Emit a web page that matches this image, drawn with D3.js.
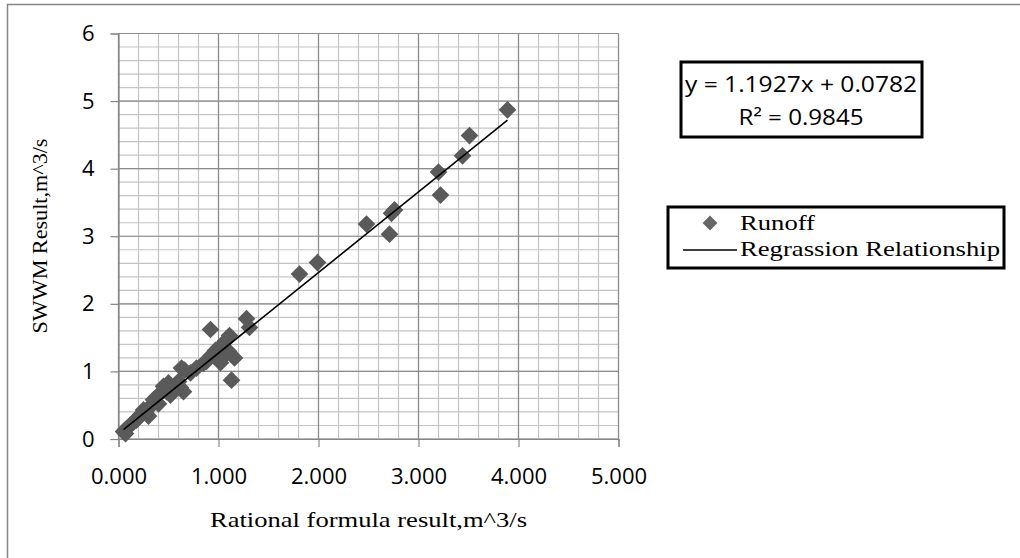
<!DOCTYPE html>
<html>
<head>
<meta charset="utf-8">
<script src="https://cdn.jsdelivr.net/npm/d3@7"></script>
<style>
  html, body { margin: 0; padding: 0; background: #fff; }
  svg { display: block; }
</style>
</head>
<body>
<svg id="chart" width="1020" height="558"></svg>
<script>
// ---- data ----
const rationalX = [3.89, 3.51, 3.44, 3.20, 3.22, 2.73, 2.76, 2.71, 2.48, 1.99, 1.81,
  1.28, 1.31, 0.92, 1.13, 1.11, 1.07, 1.16, 1.02, 0.97, 0.93, 1.07, 1.02, 1.10,
  0.88, 0.85, 0.78, 0.72, 0.63, 0.66, 0.60, 0.62, 0.65, 0.50, 0.45, 0.42, 0.38,
  0.35, 0.40, 0.30, 0.25, 0.30, 0.20, 0.18, 0.12, 0.08, 0.05, 0.07,
  0.15, 0.22, 0.27, 0.33, 0.48, 0.55, 0.58, 0.52];
const swwmY = [4.87, 4.49, 4.19, 3.95, 3.61, 3.34, 3.39, 3.03, 3.18, 2.61, 2.44,
  1.78, 1.65, 1.62, 0.87, 1.53, 1.45, 1.20, 1.37, 1.31, 1.24, 1.25, 1.13, 1.30,
  1.15, 1.12, 1.05, 0.98, 1.05, 1.02, 0.85, 0.76, 0.70, 0.83, 0.78, 0.68, 0.62,
  0.58, 0.52, 0.45, 0.43, 0.34, 0.32, 0.28, 0.21, 0.15, 0.11, 0.08,
  0.25, 0.36, 0.40, 0.50, 0.70, 0.75, 0.80, 0.65];
const slope = 1.1927;
const intercept = 0.0782;
const rSquared = 0.9845;
const xTickValues = [0, 1, 2, 3, 4, 5];
const yTickValues = [0, 1, 2, 3, 4, 5, 6];
const xTitle = "Rational formula result,m^3/s";
const yTitle = "SWWM Result,m^3/s";
const seriesNames = ["Runoff", "Regrassion Relationship"];

// ---- layout ----
const svg = d3.select("#chart");
const x = d3.scaleLinear().domain([0, 5]).range([118.5, 618.5]);
const y = d3.scaleLinear().domain([0, 6]).range([439, 33.5]);

// outer frame (only top/left visible)
svg.append("rect").attr("x", 7.5).attr("y", 4.5).attr("width", 1100).attr("height", 700)
  .attr("fill", "none").attr("stroke", "#868686").attr("stroke-width", 1.5);

const minorX = d3.range(0, 5.0001, 0.2);
const minorY = d3.range(0, 6.0001, 0.2);
const grid = svg.append("g");
grid.selectAll(".mx").data(minorX).join("line")
  .attr("x1", d => x(d)).attr("x2", d => x(d)).attr("y1", y(0)).attr("y2", y(6))
  .attr("stroke", "#c4c4c4").attr("stroke-width", 1.2);
grid.selectAll(".my").data(minorY).join("line")
  .attr("y1", d => y(d)).attr("y2", d => y(d)).attr("x1", x(0)).attr("x2", x(5))
  .attr("stroke", "#c4c4c4").attr("stroke-width", 1.2);
grid.selectAll(".Mx").data(xTickValues).join("line")
  .attr("x1", d => x(d)).attr("x2", d => x(d)).attr("y1", y(0)).attr("y2", y(6))
  .attr("stroke", "#8c8c8c").attr("stroke-width", 1.2);
grid.selectAll(".My").data(yTickValues).join("line")
  .attr("y1", d => y(d)).attr("y2", d => y(d)).attr("x1", x(0)).attr("x2", x(5))
  .attr("stroke", "#8c8c8c").attr("stroke-width", 1.2);

// axes
const xAxis = d3.axisBottom(x).tickValues(xTickValues).tickFormat(d3.format(".3f"))
  .tickSize(8).tickPadding(17);
const yAxis = d3.axisLeft(y).tickValues(yTickValues).tickFormat(d3.format("d"))
  .tickSize(8).tickPadding(16);
const gx = svg.append("g").attr("transform", `translate(0,${y(0)})`).call(xAxis);
const gy = svg.append("g").attr("transform", `translate(${x(0)},0)`).call(yAxis);
[gx, gy].forEach(g => {
  g.select(".domain").attr("stroke", "#868686").attr("stroke-width", 1.2);
  g.selectAll(".tick line").attr("stroke", "#868686").attr("stroke-width", 1.2);
  g.selectAll(".tick text").attr("fill", "#000")
    .style("font-family", "'Open Sans', sans-serif").style("font-size", "22px");
});
gx.selectAll(".tick text").attr("dy", "0.9em");

// points
const pts = rationalX.map((v, i) => [v, swwmY[i]]);
const diamond = d3.symbol().type(d3.symbolDiamond2).size(200);
svg.append("g").selectAll("path").data(pts).join("path")
  .attr("d", diamond)
  .attr("transform", d => `translate(${x(d[0])},${y(d[1])})`)
  .attr("fill", "#5a5a5a");

// regression line
const xmin = d3.min(rationalX), xmax = d3.max(rationalX);
svg.append("line")
  .attr("x1", x(xmin)).attr("y1", y(slope * xmin + intercept))
  .attr("x2", x(xmax)).attr("y2", y(slope * xmax + intercept))
  .attr("stroke", "#000").attr("stroke-width", 1.6);

// axis titles
svg.append("text").attr("x", 368.5).attr("y", 527).attr("text-anchor", "middle")
  .style("font-family", "'Liberation Serif', serif").style("font-size", "22px")
  .attr("textLength", 317).attr("lengthAdjust", "spacingAndGlyphs")
  .text(xTitle);
svg.append("text").attr("transform", `translate(47,236) rotate(-90)`).attr("text-anchor", "middle")
  .style("font-family", "'Liberation Serif', serif").style("font-size", "22px")
  .attr("textLength", 195).attr("lengthAdjust", "spacingAndGlyphs")
  .text(yTitle);

// equation box
svg.append("rect").attr("x", 681).attr("y", 62).attr("width", 241).attr("height", 75)
  .attr("fill", "#fff").attr("stroke", "#000").attr("stroke-width", 3);
svg.append("text").attr("x", 801).attr("y", 92).attr("text-anchor", "middle")
  .style("font-family", "'Open Sans', sans-serif").style("font-size", "22px")
  .attr("textLength", 232).attr("lengthAdjust", "spacingAndGlyphs")
  .text(`y = ${slope}x + ${intercept}`);
svg.append("text").attr("x", 801).attr("y", 125).attr("text-anchor", "middle")
  .style("font-family", "'Open Sans', sans-serif").style("font-size", "22px")
  .attr("textLength", 125).attr("lengthAdjust", "spacingAndGlyphs")
  .text(`R² = ${rSquared}`);

// legend
svg.append("rect").attr("x", 668).attr("y", 207).attr("width", 336).attr("height", 61)
  .attr("fill", "#fff").attr("stroke", "#000").attr("stroke-width", 3);
svg.append("path").attr("d", d3.symbol().type(d3.symbolDiamond2).size(140))
  .attr("transform", "translate(710,223)").attr("fill", "#666");
svg.append("line").attr("x1", 683).attr("x2", 737).attr("y1", 250).attr("y2", 250)
  .attr("stroke", "#000").attr("stroke-width", 1.6);
svg.append("text").attr("x", 740).attr("y", 230)
  .style("font-family", "'Liberation Serif', serif").style("font-size", "21px")
  .attr("textLength", 75).attr("lengthAdjust", "spacingAndGlyphs")
  .text(seriesNames[0]);
svg.append("text").attr("x", 740).attr("y", 256)
  .style("font-family", "'Liberation Serif', serif").style("font-size", "21px")
  .attr("textLength", 260).attr("lengthAdjust", "spacingAndGlyphs")
  .text(seriesNames[1]);
</script>
</body>
</html>
